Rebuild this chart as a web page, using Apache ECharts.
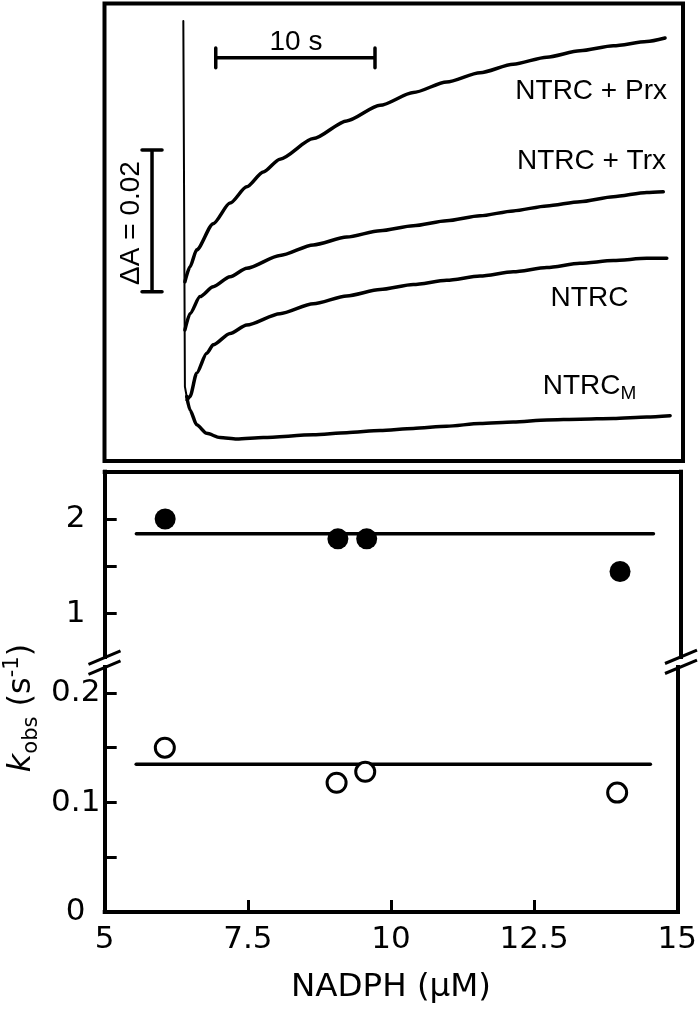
<!DOCTYPE html>
<html><head><meta charset="utf-8">
<script src="https://cdn.jsdelivr.net/npm/echarts@6/dist/echarts.min.js"></script>
<style>html,body{margin:0;padding:0;background:#fff}#c{width:700px;height:1010px}</style>
</head><body><div id="c"></div>
<script>
// ---------- Top panel: kinetic traces (time in s after mixing, absorbance in mA) ----------
const spikeTime = [0.06, 0.16, 0.27];
const spikeAbs  = [62.1, 10.5, 9.1];

const prxTime = [0.16,0.48,0.90,1.94,3.00,4.05,5.09,6.14,8.24,10.34,12.44,14.53,16.63,18.73,20.82,22.93,25.02,27.12,29.22,30.37];
const prxAbs  = [25.3,27.4,29.8,33.5,36.4,38.7,40.8,42.6,45.5,48.0,50.2,52.0,53.5,54.8,56.0,57.0,57.9,58.6,59.2,59.7];

const trxTime = [0.16,0.48,1.11,1.94,3.00,4.05,6.14,8.24,10.34,12.44,14.53,16.63,18.73,20.82,22.93,25.02,27.12,29.22,30.26];
const trxAbs  = [18.5,20.8,23.2,24.6,26.0,27.2,29.0,30.5,31.6,32.5,33.2,33.9,34.6,35.3,36.0,36.6,37.3,37.9,38.0];

const ntrcTime = [0.30,0.48,0.90,1.53,1.94,3.00,4.05,6.14,8.24,10.34,12.44,14.53,16.63,18.73,20.82,22.93,25.02,27.12,29.22,30.48];
const ntrcAbs  = [8.6,9.1,12.4,15.2,16.4,18.0,19.2,20.8,22.2,23.3,24.2,24.9,25.5,26.1,26.7,27.3,27.9,28.3,28.6,28.6];

const ntrcMTime = [0.27,0.48,0.90,1.53,2.37,3.42,5.09,8.24,10.34,12.44,14.53,16.63,18.73,20.82,22.93,25.02,27.12,29.22,30.69];
const ntrcMAbs  = [9.1,7.2,5.1,3.9,3.3,3.1,3.3,3.7,4.0,4.3,4.6,4.9,5.3,5.5,5.8,5.9,6.0,6.2,6.4];

// scale bars
const timeBarT = [2.10, 12.12];     // 10 s
const timeBarA = 56.9;
const timeBarCap = [55.5, 58.3];
const absBarT = -1.91;
const absBarA = [23.9, 43.9];       // ΔA = 0.02 (20 mA)
const absBarCap = [-2.54, -1.28];

// ---------- Bottom panel: kobs vs NADPH ----------
const nadph      = [6.05, 9.05, 9.55, 13.95];
const kobsFilled = [2.0, 1.79, 1.79, 1.445];
const kobsOpen   = [0.15, 0.118, 0.128, 0.109];
const fitRange   = [5.55, 14.53];
const fitFilled  = 1.845;
const fitOpen    = 0.135;

const xTicks = [5, 7.5, 10, 12.5, 15];
const yTicksUpper = [1, 1.5, 2];
const yLabelsUpper = [1, 2];
const yTicksLower = [0.05, 0.1, 0.15, 0.2];
const yLabelsLower = [0, 0.1, 0.2];

const zip = (a, b) => a.map((v, i) => [v, b[i]]);

const LS = '"Liberation Sans", Arial, sans-serif';
const DJ = '"DejaVu Sans", sans-serif';

const traceStyle = (w) => ({ color: '#000', width: w, cap: 'round', join: 'round' });
const lineSeries = (data, xi, yi, w, smooth) => ({
  type: 'line', xAxisIndex: xi, yAxisIndex: yi, data, symbol: 'none',
  smooth: smooth ? 0.25 : false, smoothMonotone: 'x',
  lineStyle: traceStyle(w), silent: true, z: 3
});

const timeBar = [
  [timeBarT[0], timeBarCap[0]], [timeBarT[0], timeBarCap[1]], [timeBarT[0], timeBarA],
  [timeBarT[1], timeBarA], [timeBarT[1], timeBarCap[1]], [timeBarT[1], timeBarCap[0]]
];
const absBar = [
  [absBarCap[0], absBarA[0]], [absBarCap[1], absBarA[0]], [absBarT, absBarA[0]],
  [absBarT, absBarA[1]], [absBarCap[1], absBarA[1]], [absBarCap[0], absBarA[1]]
];

const axLine = { show: true, onZero: false, lineStyle: { color: '#000', width: 4, cap: 'square' } };
const tickStyle = { show: true, inside: true, length: 12, lineStyle: { color: '#000', width: 3 } };
const labStyle = { color: '#000', fontFamily: DJ, fontSize: 31 };

const chart = echarts.init(document.getElementById('c'), null, { renderer: 'canvas' });
chart.setOption({
  animation: false,
  backgroundColor: '#fff',
  grid: [
    { left: 104.5, top: 3.5, width: 578.5, height: 457.5, show: true, borderColor: '#000', borderWidth: 4 },
    { left: 104.7, top: 471.7, width: 575.8, height: 185.3 },
    { left: 104.7, top: 667, width: 575.8, height: 245 }
  ],
  xAxis: [
    { gridIndex: 0, type: 'value', min: -4.90, max: 31.5, show: false },
    { gridIndex: 1, type: 'value', min: 5, max: 15, position: 'top', axisLine: axLine,
      axisTick: { show: false }, axisLabel: { show: false }, splitLine: { show: false } },
    { gridIndex: 2, type: 'value', min: 5, max: 15, position: 'bottom', axisLine: axLine,
      axisTick: Object.assign({}, tickStyle, { customValues: xTicks.slice(1, -1) }),
      axisLabel: Object.assign({}, labStyle, { customValues: xTicks, margin: 12 }),
      splitLine: { show: false },
      name: 'NADPH (μM)', nameLocation: 'middle', nameGap: 59,
      nameTextStyle: { color: '#000', fontFamily: DJ, fontSize: 32.5 } }
  ],
  yAxis: [
    { gridIndex: 0, type: 'value', min: 0, max: 64.57, show: false },
    { gridIndex: 1, type: 'value', min: 0.541, max: 2.5, position: 'left', axisLine: axLine,
      axisTick: Object.assign({}, tickStyle, { customValues: yTicksUpper }),
      axisLabel: Object.assign({}, labStyle, { customValues: yLabelsUpper, align: 'center', margin: 29 }),
      splitLine: { show: false } },
    { gridIndex: 1, type: 'value', min: 0.541, max: 2.5, position: 'right', axisLine: axLine,
      axisTick: { show: false }, axisLabel: { show: false }, splitLine: { show: false } },
    { gridIndex: 2, type: 'value', min: 0, max: 0.2237, position: 'left', axisLine: axLine,
      axisTick: Object.assign({}, tickStyle, { customValues: yTicksLower }),
      axisLabel: Object.assign({}, labStyle, { customValues: yLabelsLower, align: 'center', margin: 29 }),
      splitLine: { show: false } },
    { gridIndex: 2, type: 'value', min: 0, max: 0.2237, position: 'right', axisLine: axLine,
      axisTick: { show: false }, axisLabel: { show: false }, splitLine: { show: false } }
  ],
  series: [
    lineSeries(zip(spikeTime, spikeAbs), 0, 0, 2, false),
    lineSeries(zip(prxTime, prxAbs), 0, 0, 3.5, true),
    lineSeries(zip(trxTime, trxAbs), 0, 0, 3.5, true),
    lineSeries(zip(ntrcTime, ntrcAbs), 0, 0, 3.5, true),
    lineSeries(zip(ntrcMTime, ntrcMAbs), 0, 0, 3.5, true),
    lineSeries(timeBar, 0, 0, 3.5, false),
    lineSeries(absBar, 0, 0, 3.5, false),
    lineSeries(fitRange.map(x => [x, fitFilled]), 1, 1, 3.5, false),
    lineSeries(fitRange.map(x => [x, fitOpen]), 2, 3, 3.5, false),
    { type: 'scatter', xAxisIndex: 1, yAxisIndex: 1, data: zip(nadph, kobsFilled),
      symbol: 'circle', symbolSize: 21, itemStyle: { color: '#000', opacity: 1 }, z: 5, silent: true },
    { type: 'scatter', xAxisIndex: 2, yAxisIndex: 3, data: zip(nadph, kobsOpen),
      symbol: 'circle', symbolSize: 19, itemStyle: { color: '#fff', borderColor: '#000', borderWidth: 3, opacity: 1 }, z: 5, silent: true }
  ],
  graphic: [
    { type: 'text', x: 296, y: 42.5, style: { text: '10 s', fontFamily: LS, fontSize: 28, fill: '#000', align: 'center', verticalAlign: 'middle' } },
    { type: 'text', x: 131, y: 223, rotation: Math.PI / 2, style: { text: 'ΔA = 0.02', fontFamily: LS, fontSize: 28, fill: '#000', align: 'center', verticalAlign: 'middle' } },
    { type: 'text', x: 667, y: 91.7, style: { text: 'NTRC + Prx', fontFamily: LS, fontSize: 28, fill: '#000', align: 'right', verticalAlign: 'middle' } },
    { type: 'text', x: 666, y: 161.7, style: { text: 'NTRC + Trx', fontFamily: LS, fontSize: 28, fill: '#000', align: 'right', verticalAlign: 'middle' } },
    { type: 'text', x: 589.5, y: 298.3, style: { text: 'NTRC', fontFamily: LS, fontSize: 28, fill: '#000', align: 'center', verticalAlign: 'middle' } },
    { type: 'text', x: 542.7, y: 386.7, style: { text: '{a|NTRC}{b|M}', fill: '#000', align: 'left', verticalAlign: 'middle',
        rich: { a: { fontFamily: LS, fontSize: 28, lineHeight: 34, fill: '#000' },
                b: { fontFamily: LS, fontSize: 19, lineHeight: 14, verticalAlign: 'bottom', fill: '#000' } } } },
    { type: 'text', x: 22, y: 708, rotation: Math.PI / 2, style: { text: '{k|k}{s|obs}{n| (s}{p|-1}{n|)}', fill: '#000', align: 'center', verticalAlign: 'middle',
        rich: { k: { fontFamily: DJ, fontStyle: 'italic', fontSize: 32, lineHeight: 40, fill: '#000' },
                s: { fontFamily: DJ, fontSize: 21, lineHeight: 18, verticalAlign: 'bottom', fill: '#000' },
                n: { fontFamily: DJ, fontSize: 32, lineHeight: 40, fill: '#000' },
                p: { fontFamily: DJ, fontSize: 21, lineHeight: 28, verticalAlign: 'top', fill: '#000' } } } },
    { type: 'line', shape: { x1: 88.5, y1: 664.3, x2: 120.5, y2: 650.9 }, style: { stroke: '#000', lineWidth: 3 } },
    { type: 'line', shape: { x1: 88.5, y1: 674.3, x2: 120.5, y2: 660.9 }, style: { stroke: '#000', lineWidth: 3 } },
    { type: 'line', shape: { x1: 665, y1: 663.5, x2: 697, y2: 650.1 }, style: { stroke: '#000', lineWidth: 3 } },
    { type: 'line', shape: { x1: 665, y1: 673.5, x2: 697, y2: 660.1 }, style: { stroke: '#000', lineWidth: 3 } }
  ]
});
</script></body></html>
